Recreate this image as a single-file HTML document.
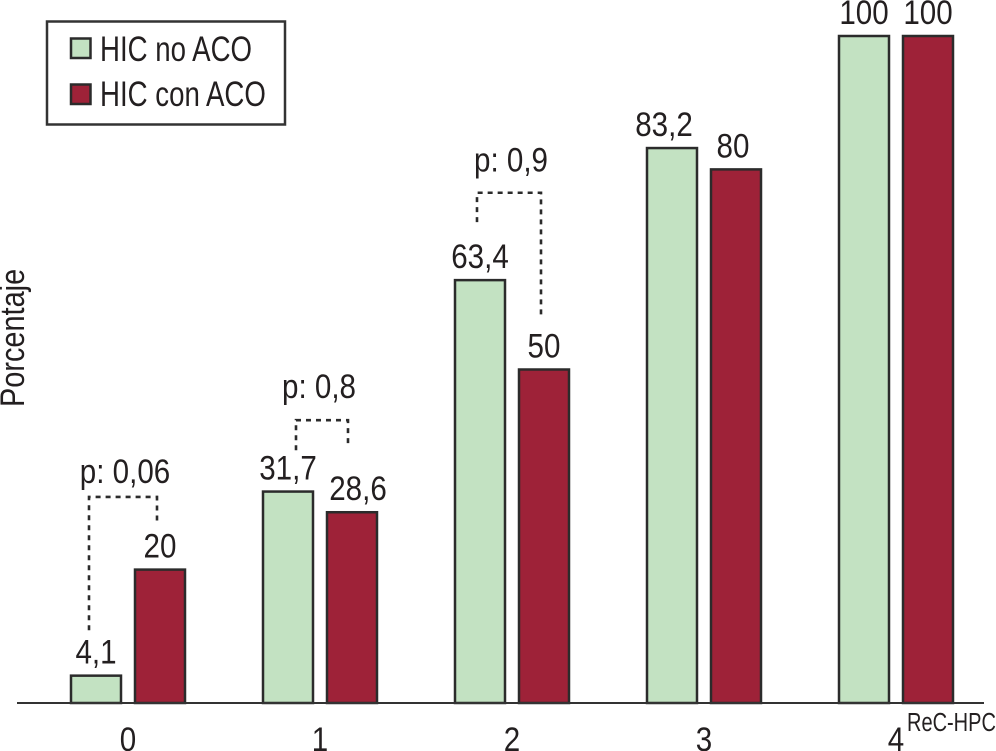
<!DOCTYPE html>
<html lang="es">
<head>
<meta charset="utf-8">
<title>HIC no ACO vs HIC con ACO</title>
<style>
html,body{margin:0;padding:0;background:#fff;width:996px;height:751px;overflow:hidden}
svg{display:block}
text{font-family:"Liberation Sans",Arial,sans-serif;fill:#231f20}
</style>
</head>
<body>
<svg id="chart" xmlns="http://www.w3.org/2000/svg" width="996" height="751" viewBox="0 0 996 751">
  <rect width="996" height="751" fill="#fff"/>
  <g>
    <rect x="47" y="21.5" width="238" height="103" fill="#fff" stroke="#333" stroke-width="2.5"/>
    <rect x="71" y="38.5" width="19.5" height="19.5" fill="#c3e2c2" stroke="#2b2b2b" stroke-width="2.5"/>
    <text transform="translate(100 61) scale(.79 1)" font-size="35">HIC no ACO</text>
    <rect x="71" y="84.5" width="19.5" height="19.5" fill="#9e2238" stroke="#2b2b2b" stroke-width="2.5"/>
    <text transform="translate(100 106) scale(.79 1)" font-size="35">HIC con ACO</text>
  </g>
  <text transform="translate(24 407) rotate(-90) scale(.85 1)" font-size="34">Porcentaje</text>
  <text transform="translate(907 731) scale(.77 1)" font-size="26">ReC-HPC</text>
  <g id="marks"></g>
</svg>
<script>
const categories = ['0', '1', '2', '3', '4'];
const noAcoValues = [4.1, 31.7, 63.4, 83.2, 100];
const conAcoValues = [20, 28.6, 50, 80, 100];
const noAcoLabels = ['4,1', '31,7', '63,4', '83,2', '100'];
const conAcoLabels = ['20', '28,6', '50', '80', '100'];
const pLabels = ['p: 0,06', 'p: 0,8', 'p: 0,9'];
const bracketTopValues = [30.9, 42.4, 76.5];
const bracketLeftEndValues = [10.9, 37.9, 72.1];
const bracketRightEndValues = [27, 38.4, 57.7];

const SVG_NS = 'http://www.w3.org/2000/svg';
const marks = document.getElementById('marks');
const BASELINE = 703, UNIT = 6.67, FIRST = 128, STEP = 192, BAR_W = 50, BAR_OFFSET = 32;
const yScale = v => BASELINE - v * UNIT;
const xScale = i => FIRST + i * STEP;

function make(tag, attrs, parent) {
  const node = document.createElementNS(SVG_NS, tag);
  for (const key in attrs) node.setAttribute(key, attrs[key]);
  (parent || marks).appendChild(node);
  return node;
}
function label(str, cx, baseline, parent) {
  const t = make('text', {
    transform: 'translate(' + cx + ' ' + baseline + ') scale(.87 1)',
    'text-anchor': 'middle',
    'font-size': 34
  }, parent);
  t.textContent = str;
  return t;
}

categories.forEach((cat, i) => {
  const c = xScale(i);
  const a = noAcoValues[i], b = conAcoValues[i];

  const barA = make('rect', {x: c - BAR_OFFSET - BAR_W / 2, y: yScale(a), width: BAR_W, height: BASELINE - yScale(a), fill: '#c3e2c2', stroke: '#2b2b2b', 'stroke-width': 2.5});
  
  

  const barB = make('rect', {x: c + BAR_OFFSET - BAR_W / 2, y: yScale(b), width: BAR_W, height: BASELINE - yScale(b), fill: '#9e2238', stroke: '#2b2b2b', 'stroke-width': 2.5});
  
  

  const labelA = label(noAcoLabels[i], c - BAR_OFFSET + (cat === '3' ? -8 : 0), yScale(a) - 12);
  
  

  const labelB = label(conAcoLabels[i], c + BAR_OFFSET + (cat === '1' ? 6 : cat === '3' ? -3 : 0), yScale(b) - 12);
  
  

  const tick = label(cat, c, 751);
  
  
});

const axis = make('line', {x1: 17, x2: 984, y1: BASELINE, y2: BASELINE, stroke: '#333', 'stroke-width': 2});



pLabels.forEach((txt, i) => {
  const c = xScale(i);
  const leftX = c + (i === 1 ? -24 : i === 0 ? -39 : -35);
  const rightX = c + (i === 1 ? 28 : 29);
  const top = yScale(bracketTopValues[i]);
  const d = 'M' + leftX + ' ' + yScale(bracketLeftEndValues[i]) +
            'V' + top + 'H' + rightX + 'V' + yScale(bracketRightEndValues[i]);

  const bracket = make('path', {d: d, fill: 'none', stroke: '#2b2b2b', 'stroke-width': 2.6, 'stroke-dasharray': '5 5'});
  
  

  const p = label(txt, c - (i === 0 ? 3 : 1), top - (i === 2 ? 21 : 14 + (i === 1 ? 8 : 0)));
  
  
});
</script>
</body>
</html>
